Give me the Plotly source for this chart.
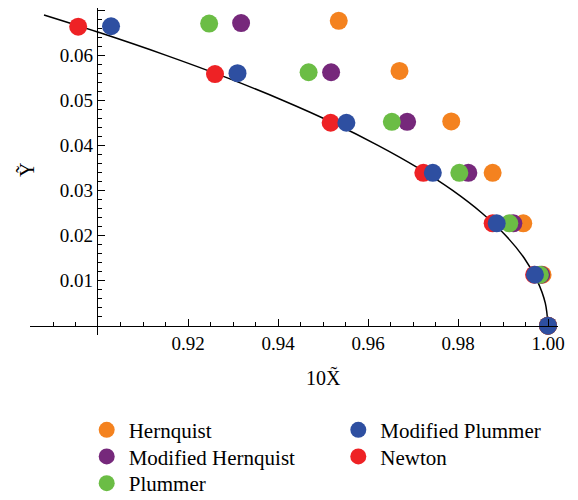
import numpy as np
import plotly.graph_objects as go

# ---- data ----
hern_x = [0.9535, 0.9670, 0.9785, 0.9877, 0.9945, 0.9988, 1.0]
hern_y = [0.0676, 0.0565, 0.0453, 0.0339, 0.0227, 0.0113, 0.0]
mhern_x = [0.9318, 0.9518, 0.9687, 0.9823, 0.9923, 0.9985, 1.0]
mhern_y = [0.0671, 0.0562, 0.0452, 0.0339, 0.0227, 0.0113, 0.0]
plum_x = [0.9247, 0.9468, 0.9653, 0.9803, 0.9914, 0.9982, 1.0]
plum_y = [0.0670, 0.0562, 0.0452, 0.0339, 0.0227, 0.0113, 0.0]
newt_x = [0.8956, 0.9260, 0.9517, 0.9723, 0.9877, 0.9969, 1.0]
newt_y = [0.0663, 0.0558, 0.0450, 0.0339, 0.0227, 0.0113, 0.0]
mplum_x = [0.9029, 0.9310, 0.9552, 0.9744, 0.9886, 0.9971, 1.0]
mplum_y = [0.0664, 0.0560, 0.0450, 0.0339, 0.0227, 0.0113, 0.0]

curve_x = [0.8880, 0.9003, 0.9150, 0.9286, 0.9410, 0.9522, 0.9622, 0.9711,
           0.9788, 0.9853, 0.9906, 0.9947, 0.9976, 0.9994, 1.0]
curve_y = [0.0689, 0.065, 0.060, 0.055, 0.050, 0.045, 0.040, 0.035,
           0.030, 0.025, 0.020, 0.015, 0.010, 0.005, 0.0]

x_ticks = [0.92, 0.94, 0.96, 0.98, 1.00]
x_ticktext = ["0.92", "0.94", "0.96", "0.98", "1.00"]
y_ticks = [0.01, 0.02, 0.03, 0.04, 0.05, 0.06, 0.07]
y_ticktext = ["0.01", "0.02", "0.03", "0.04", "0.05", "0.06", "0.07"]
X_CROSS = 0.90  # where the vertical axis crosses the horizontal one

FONT = "Liberation Serif"
OFF = 8  # page body margin
W, H = 578 - OFF, 500 - OFF
ML, MR, MT, MB = 22, 20, 0, 165
pw, ph = W - ML - MR, H - MT - MB
xscale = 4500.0
yscale = 4510.0
xmin = X_CROSS - (98 - OFF - ML) / xscale
xmax = xmin + pw / xscale
ymax = (325.7 - OFF - MT) / yscale
ymin = ymax - ph / yscale
ycross = (X_CROSS - xmin) / (xmax - xmin)
xpos = (0 - ymin) / (ymax - ymin)


def px(page_x):
    return (page_x - OFF - ML) / pw


def py(page_y):
    return (H - MB - (page_y - OFF)) / ph


fig = go.Figure()
# curve drawn in both halves (each clipped by its own x axis)
for xa in ("x", "x2"):
    fig.add_trace(go.Scatter(x=curve_x, y=curve_y, mode="lines", xaxis=xa, yaxis="y",
                             line=dict(color="black", width=1.5, shape="spline"),
                             showlegend=False, hoverinfo="skip"))

series = [
    ("Hernquist", hern_x, hern_y, "#F4821F", "legend", 106.7, 431.7),
    ("Modified Hernquist", mhern_x, mhern_y, "#76287B", "legend2", 106.7, 458.3),
    ("Plummer", plum_x, plum_y, "#6BBD45", "legend3", 106.7, 485.0),
    ("Newton", newt_x, newt_y, "#EE2225", "legend5", 358.3, 458.3),
    ("Modified Plummer", mplum_x, mplum_y, "#2E4FA1", "legend4", 358.3, 431.7),
]
legends = {}
for name, xs, ys, col, lg, lx, ly in series:
    left = [(a, b) for a, b in zip(xs, ys) if a < X_CROSS]
    right = [(a, b) for a, b in zip(xs, ys) if a >= X_CROSS]
    fig.add_trace(go.Scatter(x=[a for a, b in right], y=[b for a, b in right], mode="markers", name=name,
                             marker=dict(size=18, color=col, line=dict(width=0)),
                             legend=lg, cliponaxis=False, legendgroup=name))
    if left:
        fig.add_trace(go.Scatter(x=[a for a, b in left], y=[b for a, b in left], mode="markers", name=name,
                                 xaxis="x2", yaxis="y", marker=dict(size=18, color=col, line=dict(width=0)),
                                 showlegend=False, cliponaxis=False, legendgroup=name))
    legends[lg] = dict(x=px(lx - 22), y=py(ly - 22), xanchor="left", yanchor="top",
                       font=dict(family=FONT, size=21, color="black"), bgcolor="rgba(0,0,0,0)",
                       itemwidth=34, itemsizing="trace", borderwidth=0)

minor_x = [v for v in np.arange(X_CROSS, 1.0021, 0.005) if min(abs(v - t) for t in x_ticks + [X_CROSS]) > 1e-6]
left_x = [v for v in np.arange(0.885, X_CROSS - 1e-6, 0.005)]
minor_y = [v for v in np.arange(0.002, 0.0711, 0.002) if min(abs(v - t) for t in y_ticks) > 1e-6]

tickstyle = dict(ticks="inside", tickwidth=1.2, tickcolor="black",
                 showgrid=False, zeroline=False, showline=True, linecolor="black", linewidth=1.2,
                 tickfont=dict(family=FONT, size=19, color="black"), automargin=False)
minorstyle = dict(tickmode="array", ticks="inside", ticklen=4, tickwidth=1.2, tickcolor="black")

fig.update_layout(
    width=W, height=H,
    margin=dict(l=ML, r=MR, t=MT, b=MB, autoexpand=False),
    paper_bgcolor="white", plot_bgcolor="white",
    font=dict(family=FONT, size=19, color="black"),
    xaxis=dict(domain=[ycross, 1.0], range=[X_CROSS, xmax], anchor="free", position=xpos,
               tickmode="array", tickvals=x_ticks, ticktext=x_ticktext, ticklen=7,
               minor=dict(tickvals=minor_x, **minorstyle), **tickstyle),
    xaxis2=dict(domain=[0.0, ycross], range=[xmin, X_CROSS], anchor="free", position=xpos,
                tickmode="array", tickvals=left_x, ticklen=4, showticklabels=False, **tickstyle),
    yaxis=dict(range=[ymin, ymax], anchor="x", side="left",
               tickmode="array", tickvals=y_ticks, ticktext=y_ticktext, ticklen=7,
               minor=dict(tickvals=minor_y, **minorstyle), **tickstyle),
    annotations=[
        dict(text="10X\u0303", x=px(323), y=py(377), xref="paper", yref="paper",
             showarrow=False, font=dict(family=FONT, size=20), xanchor="center", yanchor="middle"),
        dict(text="Y\u0303", x=px(26), y=py(170), xref="paper", yref="paper",
             showarrow=False, font=dict(family=FONT, size=20), textangle=-90, xanchor="center", yanchor="middle"),
    ],
    **legends,
)

fig.write_html("out.html")
